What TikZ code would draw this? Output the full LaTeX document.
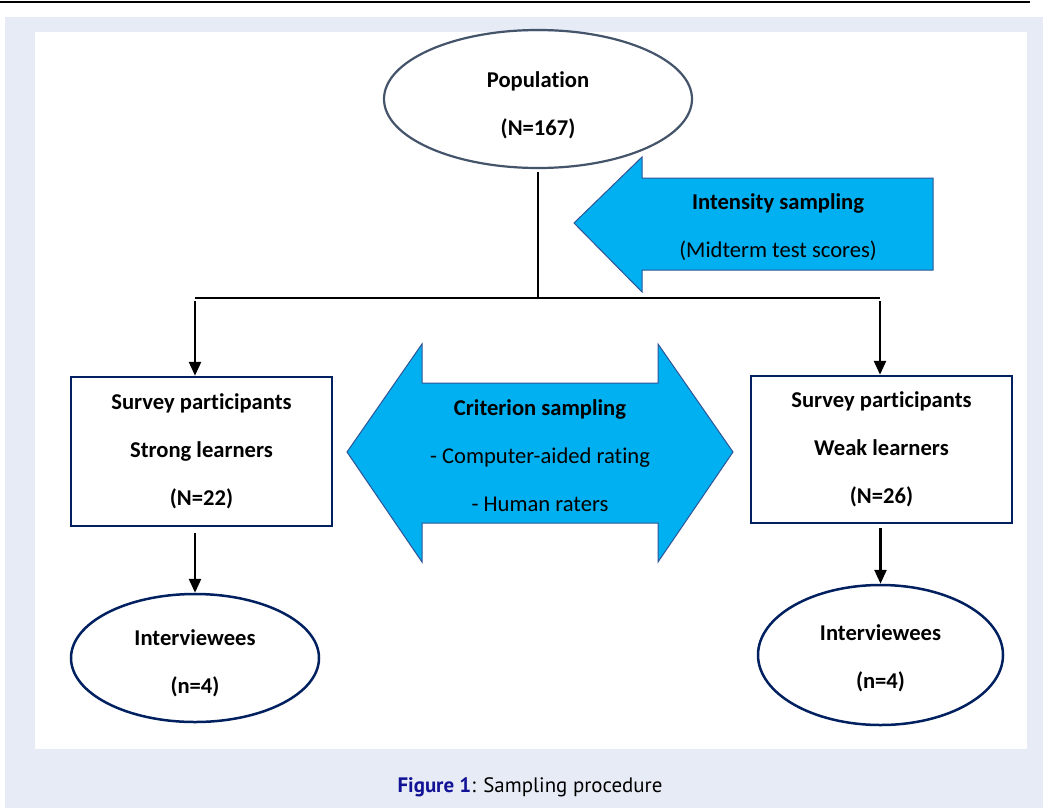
\documentclass[tikz,border=0pt]{standalone}
\usepackage{fontspec}
\setmainfont{Carlito}[Ligatures=NoCommon]
\newfontfamily\capfont{PT Sans}
\usetikzlibrary{arrows.meta,shapes.geometric}
\definecolor{bgblue}{RGB}{231,235,246}
\definecolor{popgray}{RGB}{68,84,106}
\definecolor{navy}{RGB}{0,32,96}
\definecolor{skyfill}{RGB}{0,176,240}
\definecolor{skyedge}{RGB}{47,85,151}
\definecolor{capblue}{RGB}{18,18,150}
\tikzset{
  txt/.style={align=center,font=\fontsize{22.6}{48}\selectfont,inner sep=0pt},
  popell/.style={ellipse,draw=popgray,line width=2.2pt,inner sep=0pt},
  navyell/.style={ellipse,draw=navy,line width=2.5pt,inner sep=0pt},
  navybox/.style={rectangle,draw=navy,line width=2.5pt,inner sep=0pt,txt},
  bigarrow/.style={fill=skyfill,draw=skyedge,line width=1pt},
  conn/.style={line width=2.6pt,black},
  arr/.style={conn,-{Triangle[length=14pt,width=12pt]}}
}
\begin{document}
\begin{tikzpicture}[x=1pt,y=-1pt]
\useasboundingbox (0,0) rectangle (1043,808);
\fill[bgblue] (5,17) rectangle (1043,808);
\fill[white] (35,32) rectangle (1027,749);
\draw[line width=2pt] (0,2.5) -- (1030,2.5);

% population
\node[popell,minimum width=308pt,minimum height=138pt] (pop) at (538,99) {};
\node[txt] (popT) at (pop.center) [yshift=-6pt] {\bfseries Population\\\bfseries (N=167)};

% intensity arrow
\draw[bigarrow] (574,223) -- (642,157) -- (642,178) -- (933,178) -- (933,270)
  -- (642,270) -- (642,292) -- cycle;
\node[txt] (intT) at (778,227) {\bfseries Intensity sampling\\(Midterm test scores)};

% criterion arrow
\draw[bigarrow] (347,452) -- (422,344) -- (422,383) -- (658,383) -- (658,344)
  -- (733,452) -- (658,562) -- (658,523) -- (422,523) -- (422,562) -- cycle;
\node[txt] (critT) at (540,455.5) {\bfseries Criterion sampling\\- Computer-aided rating\\- Human raters};

% boxes
\node[navybox,minimum width=261pt,minimum height=149pt] (boxL) at (201.5,451.5)
  {\bfseries Survey participants\\\bfseries Strong learners\\\bfseries (N=22)};
\node[navybox,minimum width=261pt,minimum height=147pt] (boxR) at (881.5,449.5)
  {\bfseries Survey participants\\\bfseries Weak learners\\\bfseries (N=26)};

% interviewees
\node[navyell,minimum width=248pt,minimum height=128pt] (intL) at (195,658) {};
\node[txt] (intLT) at (intL.center) [yshift=-5pt] {\bfseries Interviewees\\\bfseries (n=4)};
\node[navyell,minimum width=245pt,minimum height=140pt] (intR) at (880.5,655) {};
\node[txt] (intRT) at (intR.center) [yshift=-3pt] {\bfseries Interviewees\\\bfseries (n=4)};

% connectors
\coordinate (split) at (538,298);
\coordinate (jl) at (195,298);
\coordinate (jr) at (880,298);
\draw[conn] ([yshift=-3pt]pop.south) -- (split);
\draw[conn] (jl) -- (jr);
\draw[arr] ([yshift=-3pt]jl) -- (jl |- boxL.north);
\draw[arr] ([yshift=-3pt]jr) -- (jr |- boxR.north);
\draw[arr] ([yshift=-6pt]boxL.south -| intL.north) -- (intL.north);
\draw[arr] ([yshift=-4pt]boxR.south -| intR.north) -- (intR.north);

% caption
\node[inner sep=0pt] (cap) at (530,787)
  {\capfont\fontsize{20.9}{24}\selectfont\textcolor{capblue}{\bfseries Figure 1}: Sampling procedure};
\end{tikzpicture}
\end{document}
